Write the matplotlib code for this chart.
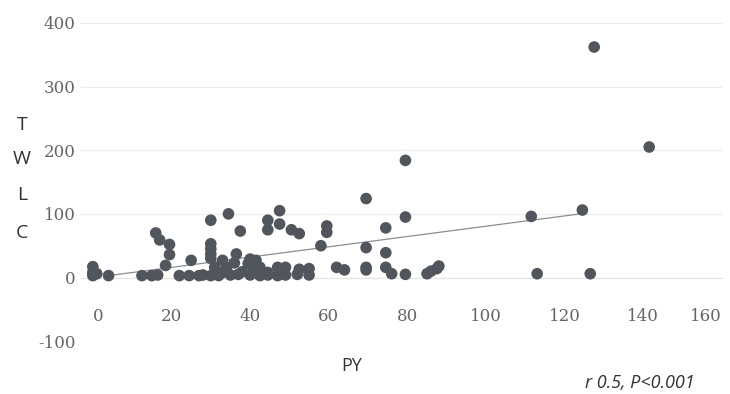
import matplotlib.pyplot as plt
import numpy as np

plt.rcParams['axes.unicode_minus'] = False

# PY vs TWLC scatter values
py = [0, 0, 1, 0, 4, 12.5, 15, 16.5,
      16, 17, 19.5, 19.5, 18.5,
      22, 24.5, 25, 27, 28, 30, 32,
      30, 34.5, 37.5,
      30, 30, 30, 30,
      33, 31, 34, 36.5, 36, 39.5,
      35, 37, 40, 42.5, 44.5, 47, 49, 52, 55,
      33, 38, 41,
      40.5, 40, 41.5, 42.5, 44.5, 47, 49, 52.5, 55,
      44.5, 44.5, 47.5, 47.5, 50.5, 52.5,
      59.5, 59.5, 58, 62, 64,
      69.5, 69.5, 69.5, 69.5,
      79.5, 79.5, 74.5, 74.5, 74.5, 76, 79.5,
      85, 86, 87.5, 88,
      111.5, 113, 124.5, 126.5, 127.5, 141.5]
twlc = [17, 8, 6, 3, 3, 3, 3, 4,
        70, 59, 52, 36, 19,
        3, 3, 27, 3, 4, 3, 3,
        90, 100, 73,
        53, 45, 37, 30,
        27, 16, 16, 37, 23, 22,
        4, 5, 4, 3, 4, 3, 4, 5, 4,
        8, 9, 10,
        19, 29, 27, 16, 8, 16, 16, 13, 14,
        90, 75, 105, 84, 75, 69,
        81, 71, 50, 16, 12,
        124, 47, 16, 12,
        184, 95, 78, 39, 16, 6, 5,
        6, 10, 14, 18,
        96, 6, 106, 6, 362, 205]

# trend line as drawn in the figure
trend_x = [4, 124]
trend_y = [3, 100]

xticks = [0, 20, 40, 60, 80, 100, 120, 140, 160]
yticks = [-100, 0, 100, 200, 300, 400]

fig = plt.figure(figsize=(7.3, 3.94), dpi=100)
ax = fig.add_axes([0.111, 0.134, 0.878, 0.808])

ax.scatter(py, twlc, s=70, color='#50565c', edgecolors='none', zorder=3)
ax.plot(trend_x, trend_y, color='#8a8e92', lw=0.9, zorder=2)

ax.set_xlim(-3, 160)
ax.set_ylim(-100, 400)
ax.set_yticks(yticks)
ax.set_xticks(xticks)
ax.grid(axis='y', color='#ececec', lw=0.8)
ax.set_axisbelow(True)

for s in ['top', 'right', 'left']:
    ax.spines[s].set_visible(False)
ax.spines['bottom'].set_position(('data', 0))
ax.spines['bottom'].set_color('#e4e4e4')

ax.tick_params(axis='both', length=0, labelcolor='#656565', labelsize=12)
ax.tick_params(axis='x', pad=22)
ax.tick_params(axis='y', pad=4)
for lab in ax.get_xticklabels() + ax.get_yticklabels():
    lab.set_fontfamily('DejaVu Serif')
    lab.set_fontweight('light')
xlabs = ax.get_xticklabels()
xlabs[0].set_ha('left')
xlabs[-1].set_ha('right')

# stacked y label letters
for ch, yy in zip(['T', 'W', 'L', 'C'], [125, 159, 195, 233]):
    fig.text(22 / 730, 1 - yy / 394, ch, ha='center', va='center',
             fontsize=14, family='Open Sans', color='#333333')

fig.text(352 / 730, 1 - 366 / 394, 'PY', ha='center', va='center',
         fontsize=13, family='Open Sans', color='#333333')
fig.text(640 / 730, 1 - 383 / 394, 'r 0.5, P<0.001', ha='center', va='center',
         fontsize=13, family='Open Sans', style='italic', color='#333333')

fig.savefig('out.png', dpi=100)
